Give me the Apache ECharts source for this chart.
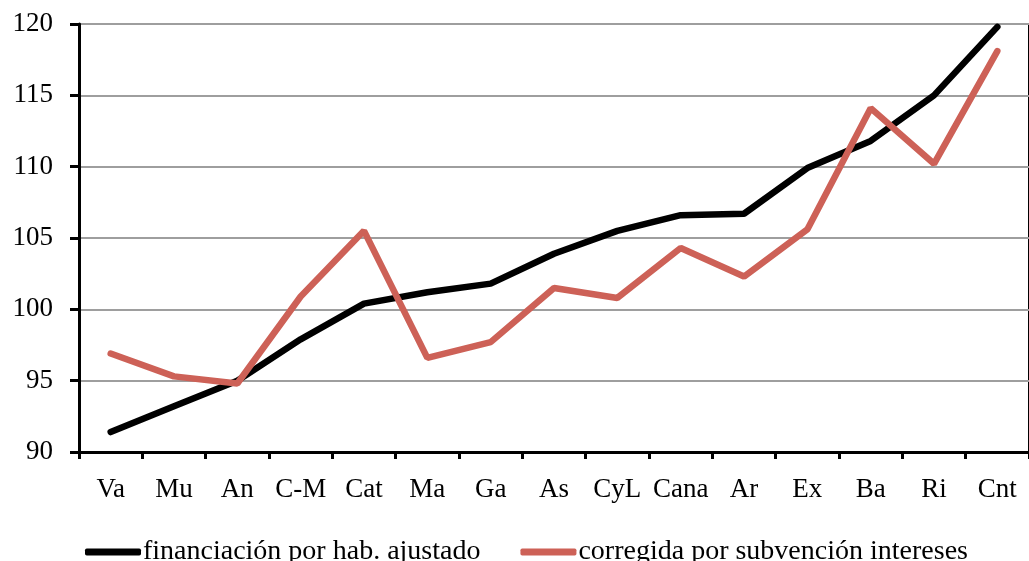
<!DOCTYPE html>
<html>
<head>
<meta charset="utf-8">
<script src="https://cdn.jsdelivr.net/npm/echarts@6/dist/echarts.min.js"></script>
<style>
  html, body { margin: 0; padding: 0; background: #fff; }
  #chart { width: 1029px; height: 561px; }
</style>
</head>
<body>
<div id="chart"></div>
<script>
// regiones
var regiones = ['Va', 'Mu', 'An', 'C-M', 'Cat', 'Ma', 'Ga', 'As', 'CyL', 'Cana', 'Ar', 'Ex', 'Ba', 'Ri', 'Cnt'];
var financiacion = [91.4, 93.2, 95.0, 97.9, 100.4, 101.2, 101.8, 103.9, 105.5, 106.6, 106.7, 109.9, 111.8, 115.0, 119.8];
var corregida = [96.9, 95.3, 94.8, 100.9, 105.5, 96.6, 97.7, 101.5, 100.8, 104.3, 102.3, 105.6, 114.1, 110.2, 118.1];
var nombres = ['financiación por hab. ajustado', 'corregida por subvención intereses'];

var fuente = 'Liberation Serif';

var chart = echarts.init(document.getElementById('chart'));

var option = {
    animation: false,
    backgroundColor: '#fff',
    grid: {
        left: 79,
        top: 24,
        width: 952,
        height: 428,
        show: true,
        borderColor: '#000',
        borderWidth: 2
    },
    legend: {
        data: nombres,
        left: 80,
        top: 533,
        icon: 'roundRect',
        itemWidth: 56,
        itemHeight: 7,
        itemGap: 40,
        textStyle: { fontFamily: fuente, fontSize: 28, color: '#000', padding: [0, 0, 0, -3] }
    },
    xAxis: {
        type: 'category',
        data: regiones,
        boundaryGap: true,
        axisLine: { lineStyle: { color: '#000', width: 3 } },
        axisTick: { show: true, length: 7, lineStyle: { color: '#000', width: 3 } },
        axisLabel: { fontFamily: fuente, fontSize: 27, color: '#000', margin: 24, interval: 0 },
        splitLine: { show: false }
    },
    yAxis: {
        type: 'value',
        min: 90,
        max: 120,
        interval: 5,
        axisLine: { show: true, lineStyle: { color: '#000', width: 3 } },
        axisTick: { show: true, length: 9, lineStyle: { color: '#000', width: 3 } },
        axisLabel: { fontFamily: fuente, fontSize: 27, color: '#000', margin: 26 },
        splitLine: { show: true, lineStyle: { color: '#9e9e9e', width: 2 } }
    },
    series: [
        {
            name: nombres[0],
            type: 'line',
            data: financiacion,
            showSymbol: false,
            itemStyle: { color: '#000' },
            lineStyle: { color: '#000', width: 6.5, cap: 'round' }
        },
        {
            name: nombres[1],
            type: 'line',
            data: corregida,
            showSymbol: false,
            itemStyle: { color: '#cd6157' },
            lineStyle: { color: '#cd6157', width: 6.5, cap: 'round' }
        }
    ]
};

chart.setOption(option);
</script>
</body>
</html>
